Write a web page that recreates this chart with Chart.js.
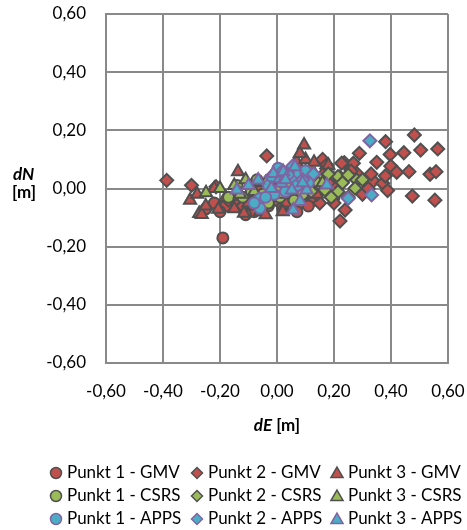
<!DOCTYPE html>
<html>
<head>
<meta charset="utf-8">
<script src="https://cdn.jsdelivr.net/npm/chart.js"></script>
<style>
  body { margin: 0; background: #fff; }
  #wrap { width: 467px; height: 530px; position: relative; }
</style>
</head>
<body>
<div id="wrap"><canvas id="dnde"></canvas></div>
<script>
// dE / dN offsets [m] per station and service
const p1Gmv = [
  [-0.19, -0.17], [-0.22, -0.05], [-0.18, -0.06], [-0.15, -0.04], [-0.12, -0.07],
  [-0.10, -0.03], [-0.08, -0.08], [-0.05, -0.05], [-0.03, -0.06], [0.00, -0.04],
  [0.02, -0.07], [0.05, -0.03], [0.08, -0.05], [0.10, -0.02], [0.13, -0.04],
  [-0.14, -0.02], [-0.06, 0.00], [0.03, 0.01], [-0.20, -0.08], [-0.11, -0.09],
  [0.07, -0.08], [0.15, 0.02], [0.18, -0.01], [-0.25, -0.07], [0.11, -0.06],
  [0.20, -0.03]
];
const p2Gmv = [
  [-0.387, 0.028], [-0.30, 0.011], [-0.214, 0.006], [-0.17, -0.04], [-0.12, -0.06],
  [-0.08, 0.02], [-0.036, 0.112], [-0.02, 0.04], [0.02, -0.06], [0.06, -0.03],
  [0.10, 0.06], [0.12, 0.02], [0.15, -0.05], [0.174, 0.069], [0.20, 0.01],
  [0.221, -0.112], [0.236, 0.089], [0.239, -0.074], [0.268, 0.087], [0.28, 0.052],
  [0.289, 0.121], [0.30, -0.02], [0.338, 0.026], [0.371, 0.018], [0.38, 0.043],
  [0.381, 0.161], [0.388, -0.007], [0.397, 0.117], [0.399, 0.077], [0.42, 0.056],
  [0.445, 0.123], [0.463, 0.058], [0.475, -0.026], [0.482, 0.184], [0.504, 0.132],
  [0.537, 0.049], [0.554, -0.04], [0.558, 0.058], [0.564, 0.136], [0.20, -0.05],
  [0.25, -0.03], [0.32, 0.00], [0.16, 0.10], [0.22, 0.04], [0.06, 0.08],
  [0.09, 0.01], [0.174, 0.081], [0.227, 0.087], [0.13, 0.04], [0.18, 0.02],
  [0.26, 0.06], [0.33, 0.05], [0.35, 0.09], [0.14, -0.02]
];
const p3Gmv = [
  [-0.305, -0.04], [-0.273, -0.086], [-0.264, -0.089], [-0.206, -0.071], [-0.137, 0.058],
  [-0.116, -0.085], [0.095, 0.15], [-0.25, -0.06], [-0.18, -0.03], [-0.10, -0.05],
  [-0.06, -0.08], [-0.02, -0.03], [0.03, -0.05], [0.07, 0.09], [0.10, 0.10],
  [0.12, 0.07], [0.05, 0.00], [0.14, -0.02], [-0.22, 0.00], [0.08, 0.12],
  [-0.04, -0.09], [0.00, 0.03], [-0.15, -0.07], [-0.08, -0.06], [0.02, -0.08],
  [0.11, 0.04], [0.13, 0.09], [-0.28, -0.02], [0.16, 0.05], [0.18, 0.08]
];
const p1Csrs = [
  [-0.17, -0.03], [-0.12, -0.03], [-0.09, -0.01], [-0.05, -0.02], [-0.02, 0.00],
  [0.01, -0.03], [0.04, -0.01], [0.07, 0.02], [0.09, -0.02], [-0.14, 0.01],
  [-0.07, 0.03], [0.12, 0.01], [0.15, 0.03], [-0.03, -0.05], [0.02, 0.04],
  [0.06, -0.04]
];
const p2Csrs = [
  [0.145, 0.018], [0.168, -0.005], [0.214, 0.041], [0.25, 0.046], [0.28, 0.029],
  [0.214, -0.011], [0.274, 0.001], [0.10, 0.03], [0.12, -0.01], [0.18, 0.05],
  [0.23, 0.02], [0.30, 0.03], [0.07, 0.05], [0.04, 0.02], [0.19, -0.03]
];
const p3Csrs = [
  [-0.249, -0.015], [-0.20, 0.00], [-0.15, 0.01], [-0.11, 0.03], [-0.08, -0.01],
  [-0.04, 0.02], [0.00, 0.00], [0.04, 0.04], [0.08, 0.03], [0.11, 0.05],
  [0.16, 0.02], [-0.13, -0.02], [0.02, -0.02], [0.06, 0.06]
];
const p1Apps = [
  [-0.06, -0.034], [-0.06, -0.068], [0.063, 0.029], [0.052, 0.064], [0.004, 0.07],
  [0.02, 0.03], [-0.03, 0.01], [0.09, 0.04], [0.11, 0.02], [-0.01, -0.02],
  [0.03, -0.01], [0.075, 0.055], [-0.08, -0.05], [-0.04, -0.03], [0.00, 0.04],
  [0.04, 0.05], [0.07, 0.01], [0.10, 0.06]
];
const p2Apps = [
  [0.055, 0.077], [0.128, 0.05], [0.25, -0.034], [0.332, -0.022], [0.326, 0.164],
  [0.02, 0.06], [0.09, 0.03], [-0.02, 0.04]
];
const p3Apps = [
  [-0.141, -0.005], [-0.066, 0.029], [-0.013, 0.052], [0.022, 0.058], [0.063, 0.075],
  [0.016, 0.018], [0.052, -0.005], [0.104, -0.005], [0.057, -0.074], [0.081, -0.045],
  [0.175, 0.012], [-0.02, 0.00], [0.03, 0.03], [0.09, 0.02], [-0.10, 0.01]
];

const seriesLabels = [
  'Punkt 1 - GMV', 'Punkt 2 - GMV', 'Punkt 3 - GMV',
  'Punkt 1 - CSRS', 'Punkt 2 - CSRS', 'Punkt 3 - CSRS',
  'Punkt 1 - APPS', 'Punkt 2 - APPS', 'Punkt 3 - APPS'
];
const seriesData = [p1Gmv, p2Gmv, p3Gmv, p1Csrs, p2Csrs, p3Csrs, p1Apps, p2Apps, p3Apps];

const axisMin = -0.6, axisMax = 0.6, axisStep = 0.2;

var RED = '#c0504d', GREEN = '#9bbb59', BLUE = '#4bacc6';
var GREY_EDGE = '#505050', PURPLE = '#8064a2';
var fills = [RED, RED, RED, GREEN, GREEN, GREEN, BLUE, BLUE, BLUE];
var shapes = ['circle', 'rectRot', 'triangle'];
var radii = { circle: 5.5, rectRot: 6.5, triangle: 7 };
var FONT = 'Lato, "Open Sans", sans-serif';

function fmt(v) {
  if (Math.abs(v) < 1e-9) v = 0;
  return v.toFixed(2).replace('.', ',');
}

var datasets = seriesData.map(function (pts, i) {
  var shape = shapes[i % 3];
  return {
    label: seriesLabels[i],
    data: pts.map(function (p) { return { x: p[0], y: p[1] }; }),
    pointStyle: shape,
    pointRadius: radii[shape],
    backgroundColor: fills[i],
    borderColor: i >= 6 ? PURPLE : GREY_EDGE,
    borderWidth: 2,
    order: seriesData.length - i   // later series on top, like the source
  };
});

function drawMarker(ctx, shape, x, y, r, fill, stroke) {
  ctx.beginPath();
  if (shape === 'circle') {
    ctx.arc(x, y, r, 0, Math.PI * 2);
  } else if (shape === 'rectRot') {
    ctx.moveTo(x, y - r); ctx.lineTo(x + r, y); ctx.lineTo(x, y + r); ctx.lineTo(x - r, y);
  } else {
    ctx.moveTo(x, y - r); ctx.lineTo(x + r * 0.866, y + r * 0.5); ctx.lineTo(x - r * 0.866, y + r * 0.5);
  }
  ctx.closePath();
  ctx.fillStyle = fill; ctx.fill();
  ctx.lineWidth = 1.5; ctx.strokeStyle = stroke; ctx.stroke();
}

// titles (horizontal y title) and the 3-column legend
var decorations = {
  id: 'decorations',
  afterDraw: function (chart) {
    var ctx = chart.ctx;
    ctx.save();
    ctx.fillStyle = '#000';
    ctx.textBaseline = 'middle';
    ctx.textAlign = 'left';

    ctx.font = 'italic bold 17px ' + FONT;
    ctx.fillText('dN', 13, 175);
    ctx.font = 'bold 17px ' + FONT;
    ctx.fillText('[m]', 12, 193);

    var cx = (chart.chartArea.left + chart.chartArea.right) / 2;
    ctx.font = 'italic bold 17px ' + FONT;
    var w1 = ctx.measureText('dE').width;
    ctx.font = 'bold 17px ' + FONT;
    var w2 = ctx.measureText(' [m]').width;
    var sx = cx - (w1 + w2) / 2;
    ctx.font = 'italic bold 17px ' + FONT;
    ctx.fillText('dE', sx, 426);
    ctx.font = 'bold 17px ' + FONT;
    ctx.fillText(' [m]', sx + w1, 426);

    var colX = [56, 197, 337], rowY = [473, 496, 519];
    ctx.font = '17px ' + FONT;
    datasets.forEach(function (ds, i) {
      var x = colX[i % 3], y = rowY[Math.floor(i / 3)];
      var r = ds.pointStyle === 'triangle' ? 7 : 5.5;
      drawMarker(ctx, ds.pointStyle, x, y + (ds.pointStyle === 'triangle' ? 1 : 0), r, ds.backgroundColor, ds.borderColor);
      ctx.fillStyle = '#000';
      ctx.fillText(ds.label, x + 11, y);
    });
    ctx.restore();
  }
};

function gridStyle(gap) {
  return { color: '#898989', lineWidth: 2, drawTicks: true, tickLength: gap, tickColor: 'rgba(0,0,0,0)' };
}
var borderStyle = { display: true, color: '#898989', width: 2 };

new Chart(document.getElementById('dnde'), {
  type: 'scatter',
  data: { datasets: datasets },
  options: {
    responsive: true,
    maintainAspectRatio: false,
    animation: false,
    events: [],
    layout: { padding: { left: 0, right: 19, top: 14, bottom: 0 } },
    plugins: { legend: { display: false }, tooltip: { enabled: false } },
    scales: {
      x: {
        type: 'linear',
        min: axisMin, max: axisMax,
        grid: gridStyle(18),
        border: borderStyle,
        ticks: {
          stepSize: axisStep, padding: 0, maxRotation: 0, autoSkip: false,
          color: '#000', font: { family: FONT, size: 17 },
          callback: fmt
        },
        afterFit: function (scale) { scale.height = 167; }
      },
      y: {
        type: 'linear',
        min: axisMin, max: axisMax,
        grid: gridStyle(20),
        border: borderStyle,
        ticks: {
          stepSize: axisStep, padding: 0, autoSkip: false,
          color: '#000', font: { family: FONT, size: 17 },
          callback: fmt
        },
        afterFit: function (scale) { scale.width = 106; }
      }
    }
  },
  plugins: [decorations]
});
</script>
</body>
</html>
